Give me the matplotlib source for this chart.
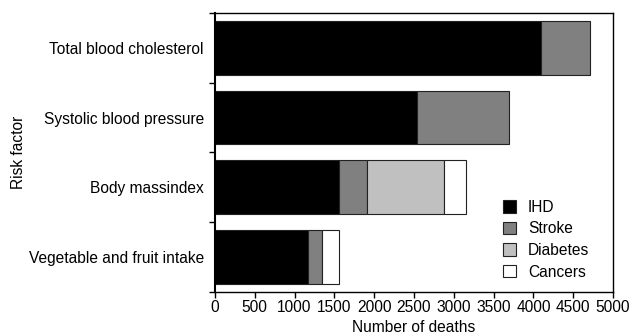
import matplotlib
matplotlib.use("Agg")
import matplotlib.pyplot as plt
import numpy as np

plt.rcParams['font.family'] = ['Liberation Sans', 'DejaVu Sans']

categories = ["Total blood cholesterol", "Systolic blood pressure", "Body massindex", "Vegetable and fruit intake"]
ihd = [4100, 2540, 1560, 1170]
stroke = [610, 1150, 355, 170]
diabetes = [0, 0, 965, 0]
cancers = [0, 0, 270, 215]
series = {"IHD": ihd, "Stroke": stroke, "Diabetes": diabetes, "Cancers": cancers}
colors = {"IHD": "#000000", "Stroke": "#808080", "Diabetes": "#c0c0c0", "Cancers": "#ffffff"}
xticks = [0, 500, 1000, 1500, 2000, 2500, 3000, 3500, 4000, 4500, 5000]

FS = 11.2
fig = plt.figure(figsize=(6.32, 3.35), dpi=100)
ax = fig.add_axes([0.340, 0.128, 0.630, 0.834])

y = np.arange(len(categories))[::-1]
left = np.zeros(len(categories))
for name, vals in series.items():
    vals = np.array(vals, dtype=float)
    mask = vals > 0
    ax.barh(y[mask], vals[mask], left=left[mask], height=0.77,
            color=colors[name], edgecolor="#222222", linewidth=0.8, label=name)
    left += vals

ax.set_xlim(0, 5000)
ax.set_ylim(-0.5, len(categories) - 0.5)
ax.set_xticks(xticks)
ax.set_xticklabels([str(t) for t in xticks], fontsize=FS)
ax.set_yticks(y)
ax.set_yticklabels(categories, fontsize=FS)
ax.tick_params(axis='y', length=0, pad=8)
ax.set_yticks(np.arange(-0.5, len(categories), 1.0), minor=True)
ax.tick_params(axis='y', which='minor', length=4, width=1)
ax.tick_params(axis='x', length=4, width=1, pad=1.5)
ax.set_xlabel("Number of deaths", fontsize=FS, labelpad=4)
ax.set_ylabel("Risk factor", fontsize=FS, labelpad=2)
for s in ax.spines.values():
    s.set_linewidth(1.0)
ax.spines['left'].set_linewidth(1.5)

ax.legend(loc='lower right', bbox_to_anchor=(0.975, -0.005), frameon=False, fontsize=FS,
          handlelength=0.85, handleheight=0.85, handletextpad=0.75, labelspacing=0.42)

fig.savefig("out.png", dpi=100)
